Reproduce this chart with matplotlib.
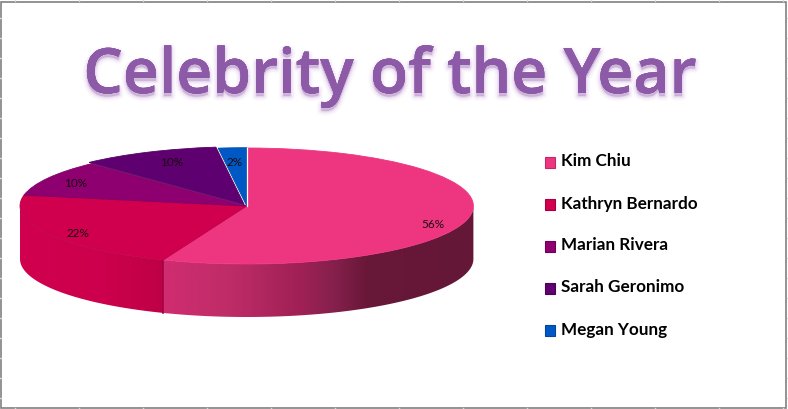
#!/usr/bin/env python3
"""Celebrity of the Year: Excel style 3D pie, drawn from plain wedges and gradient walls."""
import matplotlib
matplotlib.use('Agg')

import matplotlib.pyplot as plt
import matplotlib.patheffects as pe
from matplotlib.colors import to_rgb, LinearSegmentedColormap
from matplotlib.patches import Polygon, Rectangle
import numpy as np

# ---- data ----
NAMES = ['Kim Chiu', 'Kathryn Bernardo', 'Marian Rivera', 'Sarah Geronimo', 'Megan Young']
VALUES = [56, 22, 10, 10, 2]
LABELS = ['56%', '22%', '10%', '10%', '2%']
COLORS = ['#EE3580', '#D1004F', '#8E0070', '#5F0070', '#0058C4']
TITLE = 'Celebrity of the Year'

# ---- layout, in pixels of the 788x409 picture ----
W, H = 788, 409
CX, CY = 246.7, 206.0
RX, RY = 226.7, 58.0
DEPTH = 53.0 / RY          # wall height in pie units
EXPLODE = [0, 0, 0, 0.025, 0.005]
LABEL_PX = [(433, 224), (78, 233), (76, 183), (172, 162), (235, 162)]

# wall shading, left to right
KIM_WALL = [(0.0, '#D02C70'), (0.22, '#BE2C67'), (0.44, '#A02056'), (0.55, '#85204C'),
            (0.66, '#681738'), (1.0, '#651738')]
KATHRYN_WALL = [(0.0, '#D1004F'), (0.6, '#CC004C'), (1.0, '#BE0047')]

fig = plt.figure(figsize=(W / 100, H / 100), dpi=100, facecolor='white')
bg = fig.add_axes([0, 0, 1, 1])
bg.set_xlim(0, W)
bg.set_ylim(H, 0)
bg.axis('off')

# cropped sheet gridlines poking out past the frame
for x in np.arange(15, W, 64):
    bg.plot([x, x], [H - 1, H], color='#D8D8D8', lw=1)
    bg.plot([x, x], [0, 1], color='#D8D8D8', lw=1)
for y in np.arange(18, H, 20):
    bg.plot([0, 1], [y, y], color='#D8D8D8', lw=1)
    bg.plot([W - 1, W], [y, y], color='#D8D8D8', lw=1)
bg.add_patch(Rectangle((1.5, 1.5), W - 3, H - 3, fill=False, ec='#808080', lw=1.2))

# pie axes: one data unit is RX pixels across and RY pixels down
ax = fig.add_axes([0, 0, 1, 1], zorder=2)
ax.patch.set_alpha(0)
wedges, _ = ax.pie(VALUES, colors=COLORS, startangle=90, counterclock=False, radius=1,
                   explode=EXPLODE, wedgeprops=dict(linewidth=0.6, zorder=5))
for w, c in zip(wedges, COLORS):
    w.set_edgecolor(np.array(to_rgb(c)) * 0.9)
wedges[0].set_edgecolor(COLORS[0])

edges = 90 - 360 * np.cumsum([0] + VALUES) / sum(VALUES)


def draw_wall(th_lo, th_hi, stops):
    """Outer wall between two angles, filled with a left to right gradient."""
    th = np.radians(np.linspace(th_lo, th_hi, 120))
    xs, ys = np.cos(th), np.sin(th)
    outline = np.vstack([np.c_[xs, ys], np.c_[xs[::-1], ys[::-1] - DEPTH]])
    cmap = LinearSegmentedColormap.from_list('wall', stops)
    im = ax.imshow(np.linspace(0, 1, 256)[None, :], cmap=cmap, aspect='auto', zorder=2,
                   extent=[xs.min(), xs.max(), ys.min() - DEPTH, ys.max()])
    im.set_clip_path(Polygon(outline, transform=ax.transData))


draw_wall(edges[1], 0, KIM_WALL)
draw_wall(-180, edges[1], KATHRYN_WALL)

# darker seam where the two walls meet, light seam right of the small slice
seam_x, seam_y = np.cos(np.radians(edges[1])), np.sin(np.radians(edges[1]))
ax.plot([seam_x, seam_x], [seam_y, seam_y - DEPTH], color='#A0003F', lw=1.2, zorder=3)
ax.plot([0.003, 0.003], [0, 1], color='white', lw=0.9, zorder=6)

ax.set_aspect('auto')
ax.set_xlim(-CX / RX, (W - CX) / RX)
ax.set_ylim((CY - H) / RY, CY / RY)
ax.axis('off')

# percentage labels
for lab, (px, py) in zip(LABELS, LABEL_PX):
    ax.text((px - CX) / RX, (CY - py) / RY, lab, ha='center', va='center', fontsize=8.5,
            family='Lato', color='#1A0A10', zorder=8)

# title with soft purple glow, mostly falling below the letters
txt = bg.text(390, 93, TITLE, ha='center', va='baseline', fontsize=45, fontweight=600,
              family='Open Sans', color='#8C5AA6', zorder=3)
effects = [pe.withStroke(linewidth=lw, foreground='#B98AD0', alpha=a, offset=(0, -2.2))
           for lw, a in [(7, 0.04), (5, 0.07), (3, 0.11), (1.5, 0.16)]]
txt.set_path_effects(effects + [pe.Normal()])

# legend
for i, (name, c) in enumerate(zip(NAMES, COLORS)):
    y = 162 + i * 42
    bg.add_patch(Rectangle((545, y - 5), 10.5, 10.5, fc=c, ec=np.array(to_rgb(c)) * 0.8, lw=0.8))
    bg.text(561, y - 0.5, name, ha='left', va='center', fontsize=12.3, fontweight='bold',
            family='Lato', color='black')

fig.savefig('out.png', dpi=100, facecolor='white')
plt.close(fig)
